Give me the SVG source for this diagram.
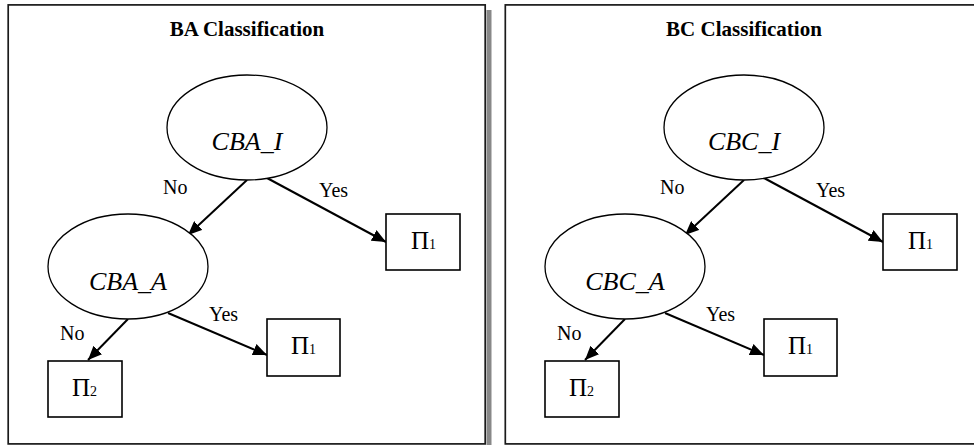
<svg xmlns="http://www.w3.org/2000/svg" width="974" height="445" viewBox="0 0 974 445">
<style>
.frame{fill:#fff;stroke:#1a1a1a;stroke-width:1.7}
.ell{fill:#fff;stroke:#000;stroke-width:1.3}
.box{fill:#fff;stroke:#000;stroke-width:1.6}
.edge{stroke:#000;stroke-width:2;fill:none;marker-end:url(#ah)}
.title{font-family:"Liberation Serif","Times New Roman",serif;font-weight:bold;font-size:21px;text-anchor:middle}
.nm{font-family:"Liberation Serif","Times New Roman",serif;font-style:italic;font-size:26px;text-anchor:middle}
.lbl{font-family:"Liberation Serif","Times New Roman",serif;font-size:20px}
.pi{font-family:"Liberation Serif","Times New Roman",serif;font-size:25px}
.sub{font-size:14px}
</style>
<defs>
<marker id="ah" viewBox="0 0 14 12" refX="14" refY="6" markerWidth="14" markerHeight="12" markerUnits="userSpaceOnUse" orient="auto">
<path d="M0,0 L14,6 L0,12 Z" fill="#000"/>
</marker>
</defs>
<rect x="0" y="0" width="974" height="445" fill="#fff"/>
<g id="panel-ba">
<rect x="486.5" y="10" width="5" height="436" fill="#888"/>
<rect class="frame" x="8.2" y="4.9" width="477" height="439"/>
<text class="title" x="247" y="36">BA Classification</text>
</g>
<g id="panel-bc">
<rect class="frame" x="505.3" y="4.9" width="490" height="439"/>
<text class="title" x="744" y="36">BC Classification</text>
</g>
<g id="connectors">
<line class="edge" x1="247" y1="180" x2="188" y2="235"/>
<line class="edge" x1="267" y1="178" x2="386" y2="242"/>
<line class="edge" x1="128" y1="319" x2="88" y2="360"/>
<line class="edge" x1="168" y1="313" x2="267" y2="355"/>
<line class="edge" x1="744" y1="180" x2="685" y2="235"/>
<line class="edge" x1="764" y1="178" x2="883" y2="242"/>
<line class="edge" x1="625" y1="319" x2="585" y2="360"/>
<line class="edge" x1="665" y1="313" x2="764" y2="355"/>
<text class="lbl" x="163" y="194">No</text>
<text class="lbl" x="319" y="197">Yes</text>
<text class="lbl" x="60" y="340">No</text>
<text class="lbl" x="209" y="321">Yes</text>
<text class="lbl" x="660" y="194">No</text>
<text class="lbl" x="816" y="197">Yes</text>
<text class="lbl" x="557" y="340">No</text>
<text class="lbl" x="706" y="321">Yes</text>
</g>
<g id="cba-i">
<ellipse class="ell" cx="247" cy="127.5" rx="80" ry="52.5"/>
<text class="nm" x="247" y="150">CBA_I</text>
</g>
<g id="cba-a">
<ellipse class="ell" cx="128" cy="266.5" rx="80" ry="52.5"/>
<text class="nm" x="128" y="290">CBA_A</text>
</g>
<g id="ba-pi1-top">
<rect class="box" x="386" y="214" width="74" height="56"/>
<text class="pi" x="411" y="249">Π<tspan class="sub">1</tspan></text>
</g>
<g id="ba-pi1-low">
<rect class="box" x="267" y="319" width="73" height="57"/>
<text class="pi" x="291" y="354">Π<tspan class="sub">1</tspan></text>
</g>
<g id="ba-pi2">
<rect class="box" x="48" y="361" width="74" height="56"/>
<text class="pi" x="72" y="396">Π<tspan class="sub">2</tspan></text>
</g>
<g id="cbc-i">
<ellipse class="ell" cx="744" cy="127.5" rx="80" ry="52.5"/>
<text class="nm" x="744" y="150">CBC_I</text>
</g>
<g id="cbc-a">
<ellipse class="ell" cx="625" cy="266.5" rx="80" ry="52.5"/>
<text class="nm" x="625" y="290">CBC_A</text>
</g>
<g id="bc-pi1-top">
<rect class="box" x="883" y="214" width="74" height="56"/>
<text class="pi" x="908" y="249">Π<tspan class="sub">1</tspan></text>
</g>
<g id="bc-pi1-low">
<rect class="box" x="764" y="319" width="73" height="57"/>
<text class="pi" x="788" y="354">Π<tspan class="sub">1</tspan></text>
</g>
<g id="bc-pi2">
<rect class="box" x="545" y="361" width="74" height="56"/>
<text class="pi" x="569" y="396">Π<tspan class="sub">2</tspan></text>
</g>
</svg>
